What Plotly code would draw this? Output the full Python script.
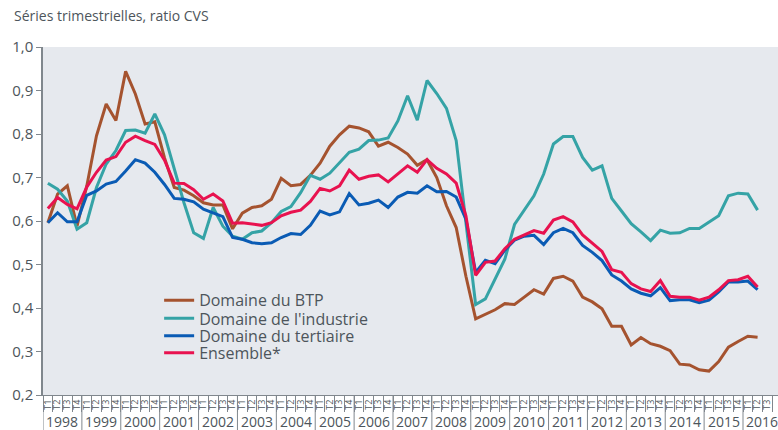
import plotly.graph_objects as go

years = list(range(1998, 2017))
quarter_labels = ["T1", "T2", "T3", "T4"]

btp = [0.596, 0.662, 0.681, 0.588, 0.680, 0.796, 0.869, 0.831, 0.944, 0.892,
       0.823, 0.828, 0.745, 0.677, 0.671, 0.658, 0.642, 0.637, 0.637, 0.582,
       0.618, 0.631, 0.635, 0.650, 0.698, 0.681, 0.684, 0.705, 0.733, 0.772,
       0.798, 0.818, 0.814, 0.805, 0.772, 0.781, 0.769, 0.754, 0.728, 0.741,
       0.700, 0.635, 0.585, 0.473, 0.375, 0.385, 0.396, 0.410, 0.408, 0.425,
       0.442, 0.432, 0.468, 0.473, 0.462, 0.425, 0.414, 0.398, 0.358, 0.358,
       0.315, 0.332, 0.318, 0.312, 0.302, 0.271, 0.269, 0.258, 0.255, 0.277,
       0.310, 0.323, 0.335, 0.333]

industrie = [0.687, 0.673, 0.646, 0.581, 0.596, 0.677, 0.731, 0.762, 0.808, 0.809,
             0.802, 0.846, 0.798, 0.719, 0.642, 0.573, 0.560, 0.631, 0.588, 0.565,
             0.558, 0.573, 0.577, 0.596, 0.622, 0.633, 0.665, 0.705, 0.696, 0.710,
             0.735, 0.758, 0.765, 0.785, 0.786, 0.791, 0.830, 0.888, 0.832, 0.923,
             0.893, 0.859, 0.785, 0.600, 0.408, 0.421, 0.465, 0.512, 0.592, 0.625,
             0.658, 0.708, 0.777, 0.794, 0.794, 0.746, 0.717, 0.727, 0.652, 0.623,
             0.594, 0.575, 0.555, 0.579, 0.572, 0.573, 0.583, 0.583, 0.598, 0.612,
             0.658, 0.664, 0.662, 0.625]

tertiaire = [0.596, 0.619, 0.598, 0.598, 0.659, 0.669, 0.685, 0.691, 0.715, 0.741,
             0.733, 0.712, 0.684, 0.652, 0.650, 0.644, 0.627, 0.619, 0.610, 0.562,
             0.558, 0.550, 0.548, 0.550, 0.562, 0.571, 0.569, 0.590, 0.623, 0.614,
             0.621, 0.663, 0.637, 0.641, 0.648, 0.631, 0.655, 0.666, 0.664, 0.681,
             0.667, 0.668, 0.655, 0.604, 0.482, 0.510, 0.502, 0.533, 0.556, 0.565,
             0.567, 0.546, 0.573, 0.583, 0.573, 0.544, 0.528, 0.509, 0.476, 0.462,
             0.444, 0.434, 0.428, 0.447, 0.417, 0.419, 0.419, 0.412, 0.418, 0.437,
             0.460, 0.460, 0.462, 0.442]

ensemble = [0.629, 0.654, 0.638, 0.628, 0.678, 0.712, 0.740, 0.748, 0.781, 0.795,
            0.785, 0.776, 0.740, 0.687, 0.686, 0.672, 0.650, 0.662, 0.646, 0.595,
            0.596, 0.593, 0.590, 0.596, 0.612, 0.620, 0.625, 0.645, 0.675, 0.669,
            0.681, 0.717, 0.696, 0.703, 0.706, 0.690, 0.709, 0.727, 0.712, 0.741,
            0.721, 0.708, 0.687, 0.612, 0.475, 0.505, 0.508, 0.536, 0.558, 0.568,
            0.578, 0.572, 0.602, 0.610, 0.598, 0.568, 0.550, 0.530, 0.488, 0.482,
            0.456, 0.444, 0.438, 0.463, 0.427, 0.425, 0.425, 0.418, 0.425, 0.442,
            0.463, 0.465, 0.473, 0.448]

series = [
    ("Domaine du BTP", btp, "#a5532f"),
    ("Domaine de l'industrie", industrie, "#35a3a6"),
    ("Domaine du tertiaire", tertiaire, "#0a5bb4"),
    ("Ensemble*", ensemble, "#e8124f"),
]

FONT = "Open Sans"
TXT = "#4d555b"
AX = "#80878d"

n_q = len(years) * 4
xq = list(range(len(btp)))

legend_names = ["legend", "legend2", "legend3", "legend4"]
legend_rows_y = [0.272, 0.220, 0.170, 0.121]

fig = go.Figure()
for (name, vals, col), lg in zip(series, legend_names):
    fig.add_trace(go.Scatter(x=xq, y=vals, mode="lines", name=name, legend=lg,
                             line=dict(color=col, width=3)))

shapes = []
for k in range(len(years) + 1):
    shapes.append(dict(type="line", xref="x", yref="paper",
                       x0=4 * k - 0.5, x1=4 * k - 0.5, y0=0, y1=-0.11,
                       line=dict(color=AX, width=1)))

annotations = []
for k, yr in enumerate(years):
    annotations.append(dict(x=4 * k + 1.5, y=0, xref="x", yref="paper",
                            yshift=-26, text=str(yr), showarrow=False,
                            font=dict(family=FONT, size=14, color=TXT),
                            xanchor="center", yanchor="middle"))

legend_layouts = {}
for lg, ly in zip(legend_names, legend_rows_y):
    legend_layouts[lg] = dict(x=0.158, y=ly, xanchor="left", yanchor="middle",
                              bgcolor="rgba(0,0,0,0)",
                              font=dict(family=FONT, size=16, color=TXT))

fig.update_layout(
    width=778, height=430,
    margin=dict(l=43, r=0, t=47, b=35),
    paper_bgcolor="white",
    plot_bgcolor="#e6e9ee",
    separators=", ",
    font=dict(family=FONT, color=TXT),
    title=dict(text="Séries trimestrielles, ratio CVS", x=14 / 778, xanchor="left",
               y=1 - 16 / 430, yanchor="middle",
               font=dict(family=FONT, size=14, color=TXT)),
    showlegend=True,
    shapes=shapes,
    annotations=annotations,
    **legend_layouts,
)

fig.update_xaxes(
    automargin=False,
    range=[-0.5, 75.1], showgrid=False, zeroline=False,
    showline=True, linecolor=AX, linewidth=1,
    tickmode="array", tickvals=list(range(n_q)),
    ticktext=[quarter_labels[i % 4] for i in range(n_q)],
    tickangle=-90, tickfont=dict(family=FONT, size=9, color=TXT),
    ticks="", ticklen=0,
    minor=dict(tickmode="array", tickvals=[i - 0.5 for i in range(n_q + 1)],
               ticks="outside", ticklen=16, tickcolor=AX, tickwidth=1, showgrid=False),
)

fig.update_yaxes(
    automargin=False,
    range=[0.2, 1.0], dtick=0.1, tickformat=".1f", showgrid=False, zeroline=False,
    showline=True, linecolor=AX, linewidth=1.5,
    ticks="outside", ticklen=5, tickcolor=AX,
    tickfont=dict(family=FONT, size=15, color=TXT),
)

fig.write_html("out.html", config={"displayModeBar": False},
               post_script="document.body.style.margin='0';document.body.style.overflow='hidden';")
